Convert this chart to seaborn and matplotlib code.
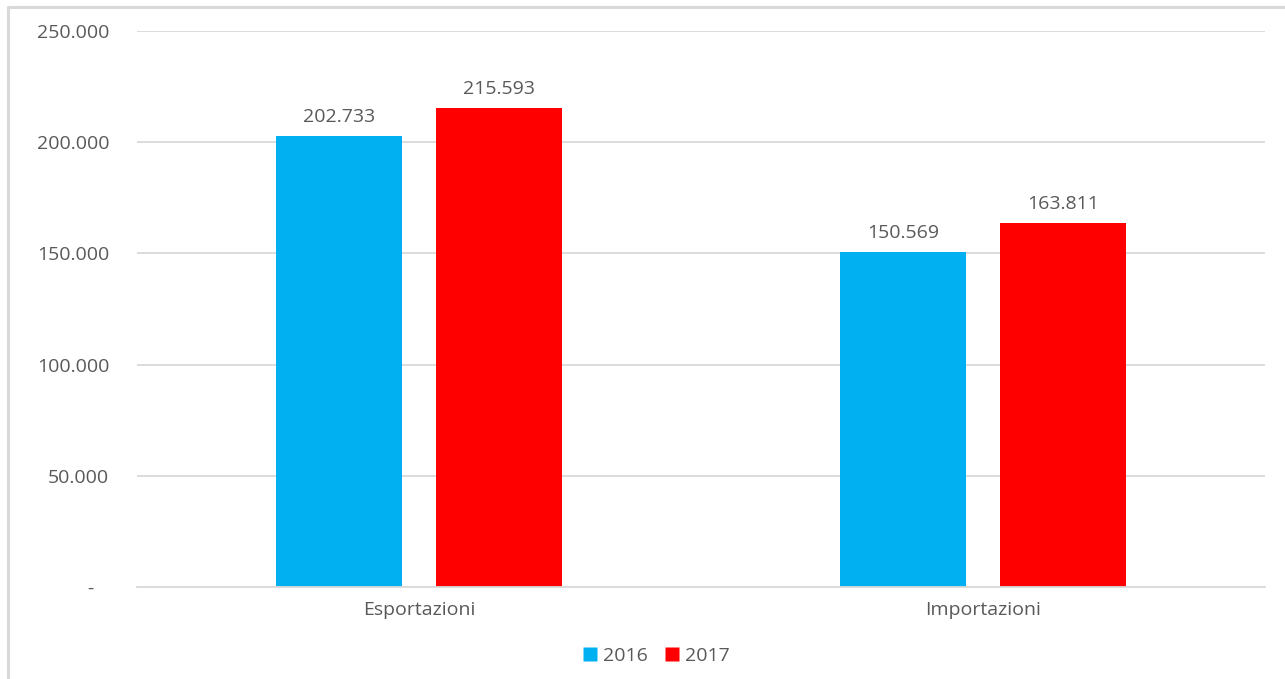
import matplotlib
matplotlib.use("Agg")
import matplotlib.pyplot as plt
from matplotlib.ticker import FuncFormatter
from matplotlib.lines import Line2D
import seaborn as sns
import pandas as pd

categories = ["Esportazioni", "Importazioni"]
years = ["2016", "2017"]
values_2016 = [202733, 150569]
values_2017 = [215593, 163811]
y_ticks = [0, 50000, 100000, 150000, 200000, 250000]

df = pd.DataFrame({
    "categoria": categories * 2,
    "anno": [years[0]] * 2 + [years[1]] * 2,
    "valore": values_2016 + values_2017,
})

sns.set_theme(style="white")
plt.rcParams["font.family"] = ["Open Sans", "DejaVu Sans"]
text_color = "#595959"
grid_color = "#d9d9d9"
fs = 14.0

fig = plt.figure(figsize=(12.85, 6.79), dpi=100)
ax = fig.add_axes([137 / 1285, 1 - 587 / 679, 1128 / 1285, 556 / 679])

palette = {"2016": "#00b0f0", "2017": "#ff0000"}
sns.barplot(data=df, x="categoria", y="valore", hue="anno", order=categories,
            hue_order=years, palette=palette, width=0.567, gap=0.207,
            saturation=1, ax=ax, legend=False, edgecolor="none")

ax.set_ylim(0, 250000)
ax.set_xlim(-0.5, 1.5)
ax.set_yticks(y_ticks)


def it_format(v, _pos):
    # accounting style: zero shown as a dash, dot as thousands separator
    if v == 0:
        return "-   "
    return f"{int(v):,}".replace(",", ".")


ax.yaxis.set_major_formatter(FuncFormatter(it_format))
ax.yaxis.grid(True, color=grid_color, linewidth=1.3)
ax.set_axisbelow(True)
for side in ["left", "right", "top"]:
    ax.spines[side].set_visible(False)
ax.spines["bottom"].set_color(grid_color)
ax.spines["bottom"].set_linewidth(1.3)
ax.set_xlabel("")
ax.set_ylabel("")
ax.tick_params(axis="y", length=0, pad=20, labelsize=fs, labelcolor=text_color)
ax.tick_params(axis="x", length=0, pad=10, labelsize=fs, labelcolor=text_color)

for container in ax.containers:
    ax.bar_label(container, labels=[it_format(v, None) for v in container.datavalues],
                 padding=7, fontsize=fs, color=text_color)

handles = [Line2D([], [], marker="s", linestyle="none", markersize=10,
                  markerfacecolor=palette[y], markeredgecolor="none") for y in years]
fig.legend(handles, years, loc="center", bbox_to_anchor=(655 / 1285, 1 - 656 / 679),
           ncol=2, frameon=False, fontsize=fs, labelcolor=text_color,
           handletextpad=0.2, columnspacing=0.7, handlelength=1.0)

# outer chart frame
fig.add_artist(Line2D([8 / 1285, 1.0], [1 - 7 / 679] * 2, transform=fig.transFigure,
                      color=grid_color, linewidth=2.2))
fig.add_artist(Line2D([8 / 1285] * 2, [0.0, 1 - 7 / 679], transform=fig.transFigure,
                      color=grid_color, linewidth=2.2))

fig.savefig("out.png", dpi=100, facecolor="white")
